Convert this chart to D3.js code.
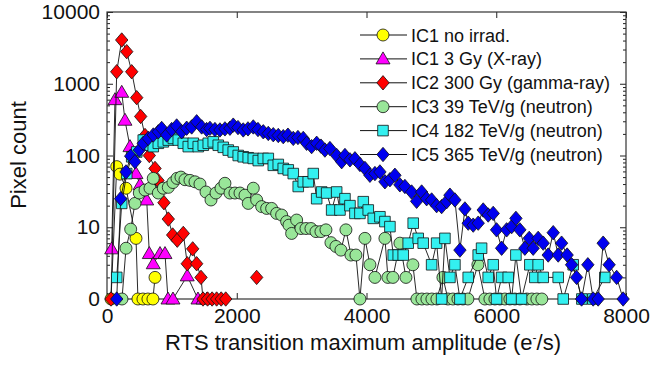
<!DOCTYPE html>
<html>
<head>
<meta charset="utf-8">
<title>RTS amplitude histogram</title>
<script src="https://d3js.org/d3.v7.min.js"></script>
<style>
  body { margin: 0; background: #fff; }
  text { font-family: "Liberation Sans", Arial, sans-serif; fill: #111; }
</style>
</head>
<body>
<script>
// amplitude (e-/s), pixel count ; 0 counts sit on the bottom line
var ic1 = [[62,0],[150,70],[200,55],[293,35],[447,7],[477,0],[554,0],[631,0],[708,0],[740,2]];
var ic1x = [[72,5],[123,600],[227,760],[277,310],[354,133],[447,56],[509,39],[612,24],[652,4.3],[713,3.1],
  [817,4.3],[894,4.3],[940,0],[1017,0],[1237,2.1],[1402,0],[1480,0],[1540,0]];
var ic2 = [[62,0],[150,1470],[227,4070],[304,2800],[381,1470],[458,640],[519,350],[586,190],[652,100],[740,66],
  [786,45],[878,22],[945,13],[1012,7.8],[1083,6.6],[1176,8.2],[1237,3.1],[1321,5],[1382,3.1],[1449,2],
  [1480,0],[1550,0],[1620,0],[1690,0],[1760,0],[1830,0],[2000,null],[2307,2]];
var ic3 = [[231,0],[293,5.1],[365,9.4],[431,21.5],[498,30],[586,33],[663,35],[713,48],[791,30],[868,35],
  [945,36],[1017,42],[1079,48],[1140,50],[1202,46],[1279,45],[1356,43],[1433,40],[1526,31],[1603,24],
  [1680,30],[1757,35],[1818,41],[1895,30],[1972,30],[2050,30],[2127,28],[2177,21.5],[2255,35],[2307,24],
  [2384,19.4],[2461,18.3],[2538,18.3],[2615,15.6],[2692,14.8],[2769,12],[2805,10.7],[2846,8.2],[2923,12.6],[2990,9.6],
  [3067,9.6],[3144,9.6],[3221,8.7],[3298,8.7],[3375,9.2],[3452,6.1],[3529,5.4],[3606,4.8],[3683,9.2],[3760,4.1],
  [3837,4.1],[3899,0],[3976,7],[4053,3],[4130,2],[4284,7],[4330,2],[4407,2],[4515,6],[4608,2],
  [4715,3],[4777,0],[4854,0],[4931,0],[5008,0],[5085,0],[5178,2],[5255,0],[5332,0],[5409,0],
  [5486,0],[5563,0],[5717,3],[5825,0],[5902,0],[5979,0],[6056,0],[6133,0],[6210,0],[6287,0],
  [6364,0],[6472,0],[6549,0],[6626,0],[6703,0]];
var ic4 = [[150,2],[227,21.5],[304,56],[381,96],[458,112],[559,164],[636,139],[713,133],[791,148],[868,155],
  [945,164],[1022,173],[1099,164],[1176,148],[1253,133],[1330,148],[1407,133],[1484,139],[1561,148],[1638,155],
  [1715,139],[1792,130],[1869,119],[1946,112],[2023,100],[2100,96],[2177,93],[2255,91],[2332,85],[2409,91],
  [2486,91],[2563,73],[2640,75],[2717,66],[2794,63],[2871,56],[2948,37],[3025,43],[3102,43],[3179,56],
  [3232,25],[3309,31],[3386,30],[3463,17.4],[3540,31],[3591,17.4],[3668,25],[3745,20],[3822,15.6],[3899,15.6],
  [3950,22.7],[4027,17.4],[4104,13.3],[4207,14],[4284,12],[4361,10.2],[4412,4.1],[4489,4.1],[4566,4.1],[4643,6],
  [4720,11.4],[4797,7],[4874,6],[5004,3],[5081,6],[5158,0],[5209,7],[5286,2],[5363,3],[5440,0],
  [5568,2],[5722,4.1],[5774,5.1],[5876,2],[5953,3],[6005,0],[6083,2],[6185,2],[6237,0],[6303,4.1],
  [6390,0],[6518,3],[6595,2],[6646,3],[6724,2],[6955,2],[7032,0],[7186,3],[7320,0],[7489,0],[7674,2]];
var ic5 = [[150,0],[211,25],[293,59],[365,98],[431,82],[498,119],[559,148],[636,173],[714,193],[791,214],
  [843,238],[920,193],[997,230],[1074,258],[1151,214],[1228,240],[1305,250],[1382,295],[1459,250],[1536,230],
  [1587,239],[1664,230],[1741,227],[1818,235],[1895,240],[1946,265],[2019,245],[2100,227],[2173,235],[2255,250],
  [2327,230],[2409,214],[2486,203],[2563,195],[2640,190],[2717,183],[2789,192],[2871,173],[2943,178],[3025,173],
  [3077,148],[3154,133],[3232,148],[3298,135],[3359,119],[3436,125],[3540,100],[3617,82],[3668,100],[3745,87],
  [3822,90],[3899,75],[3976,66],[4053,53],[4130,56],[4207,59],[4284,43],[4361,46],[4438,53],[4515,39],
  [4592,37],[4695,31],[4773,23],[4850,31],[4927,25],[5004,24],[5081,20],[5158,19.4],[5235,22.7],[5286,28],
  [5363,24],[5440,4.8],[5517,18],[5568,11.4],[5645,10.7],[5722,11.4],[5799,17.4],[5876,14.8],[5953,15.6],[6005,9.2],
  [6083,5.1],[6160,9.2],[6237,10.2],[6303,13.3],[6364,9.2],[6441,5.1],[6508,7],[6569,5.1],[6646,7],[6724,6],
  [6801,4.1],[6878,8.4],[6955,4.1],[7007,6],[7093,4.1],[7161,3],[7238,2],[7315,0],[7412,3],[7494,0],
  [7571,0],[7648,6],[7740,3],[7856,2],[7956,0]];

var seriesNames = ["IC1 no irrad.", "IC1 3 Gy (X-ray)", "IC2 300 Gy (gamma-ray)",
  "IC3 39 TeV/g (neutron)", "IC4 182 TeV/g (neutron)", "IC5 365 TeV/g (neutron)"];
var seriesData = [ic1, ic1x, ic2, ic3, ic4, ic5];
var seriesColors = ["#ffff00", "#ff00ff", "#ff0000", "#99e699", "#33f0f0", "#0000f0"];
var seriesShapes = ["circle", "triangle", "diamond", "circle", "square", "diamond"];

var xTicks = [0, 2000, 4000, 6000, 8000];
var yTicks = [1, 10, 100, 1000, 10000];
var yTickLabels = ["0", "10", "100", "1000", "10000"];

var width = 650, height = 367;
var plotL = 107, plotR = 626, plotT = 12, plotB = 299;

var svg = d3.select("body").append("svg")
  .attr("width", width)
  .attr("height", height);

var x = d3.scaleLinear().domain([0, 8000]).range([plotL, plotR]);
var y = d3.scaleLog().domain([1, 10000]).range([plotB, plotT]);
function yv(v) { return y(v === 0 ? 1 : v); }

// minor log ticks
var minor = [];
[1, 10, 100, 1000].forEach(function(d) {
  for (var k = 2; k < 10; k++) minor.push(d * k);
});

function styleAxis(g) {
  g.select(".domain").remove();
  g.selectAll("line").attr("stroke", "#222");
}

svg.append("g").attr("transform", "translate(" + plotL + ",0)")
  .call(d3.axisLeft(y).tickValues(yTicks).tickSize(-6).tickPadding(7)
    .tickFormat(function(d, i) { return yTickLabels[i]; }))
  .call(styleAxis)
  .selectAll("text").style("font-size", "21px").attr("fill", "#111");
svg.append("g").attr("transform", "translate(" + plotL + ",0)")
  .call(d3.axisLeft(y).tickValues(minor).tickSize(-3).tickFormat(""))
  .call(styleAxis);
svg.append("g").attr("transform", "translate(" + plotR + ",0)")
  .call(d3.axisRight(y).tickValues(yTicks).tickSize(-6).tickFormat(""))
  .call(styleAxis);
svg.append("g").attr("transform", "translate(" + plotR + ",0)")
  .call(d3.axisRight(y).tickValues(minor).tickSize(-3).tickFormat(""))
  .call(styleAxis);
svg.append("g").attr("transform", "translate(0," + plotB + ")")
  .call(d3.axisBottom(x).tickValues(xTicks).tickSize(-6).tickPadding(9).tickFormat(d3.format("d")))
  .call(styleAxis)
  .selectAll("text").style("font-size", "21px").attr("fill", "#111");
svg.append("g").attr("transform", "translate(0," + plotT + ")")
  .call(d3.axisTop(x).tickValues(xTicks).tickSize(-6).tickFormat(""))
  .call(styleAxis);

svg.append("rect")
  .attr("x", plotL).attr("y", plotT)
  .attr("width", plotR - plotL).attr("height", plotB - plotT)
  .attr("fill", "none").attr("stroke", "#333").attr("stroke-width", 1.2);

var shapes = {
  circle: "M6,0A6,6 0 1,1 -6,0A6,6 0 1,1 6,0Z",
  triangle: "M0,-7L7,5L-7,5Z",
  diamond: "M0,-7.2L6.2,0L0,7.2L-6.2,0Z",
  square: "M-5.3,-5.3L5.3,-5.3L5.3,5.3L-5.3,5.3Z"
};

var line = d3.line()
  .defined(function(d) { return d[1] !== null; })
  .x(function(d) { return x(d[0]); })
  .y(function(d) { return yv(d[1]); });

var plot = svg.append("g");
seriesData.forEach(function(data, i) {
  var g = plot.append("g");
  g.append("path")
    .datum(data)
    .attr("d", line)
    .attr("fill", "none")
    .attr("stroke", "#111")
    .attr("stroke-width", 0.9);
  g.selectAll("path.m")
    .data(data.filter(function(d) { return d[1] !== null; }))
    .enter().append("path")
    .attr("class", "m")
    .attr("d", shapes[seriesShapes[i]])
    .attr("transform", function(d) { return "translate(" + x(d[0]) + "," + yv(d[1]) + ")"; })
    .attr("fill", seriesColors[i])
    .attr("stroke", "#111")
    .attr("stroke-width", 0.8);
});

// legend
var legend = svg.append("g");
seriesNames.forEach(function(name, i) {
  var ly = 35 + i * 23.9;
  legend.append("line")
    .attr("x1", 360).attr("x2", 407).attr("y1", ly).attr("y2", ly)
    .attr("stroke", "#111").attr("stroke-width", 1);
  legend.append("path")
    .attr("d", shapes[seriesShapes[i]])
    .attr("transform", "translate(383," + ly + ")")
    .attr("fill", seriesColors[i])
    .attr("stroke", "#111").attr("stroke-width", 0.8);
  legend.append("text")
    .attr("x", 411).attr("y", ly + 6.5)
    .style("font-size", "18px")
    .text(name);
});

svg.append("text")
  .attr("transform", "translate(26,155) rotate(-90)")
  .attr("text-anchor", "middle")
  .style("font-size", "22px")
  .text("Pixel count");

var xt = svg.append("text")
  .attr("x", 363).attr("y", 350)
  .attr("text-anchor", "middle")
  .style("font-size", "22px");
xt.append("tspan").text("RTS transition maximum amplitude (e");
xt.append("tspan").attr("dy", -8).style("font-size", "12px").text("-");
xt.append("tspan").attr("dy", 8).text("/s)");
</script>
</body>
</html>
